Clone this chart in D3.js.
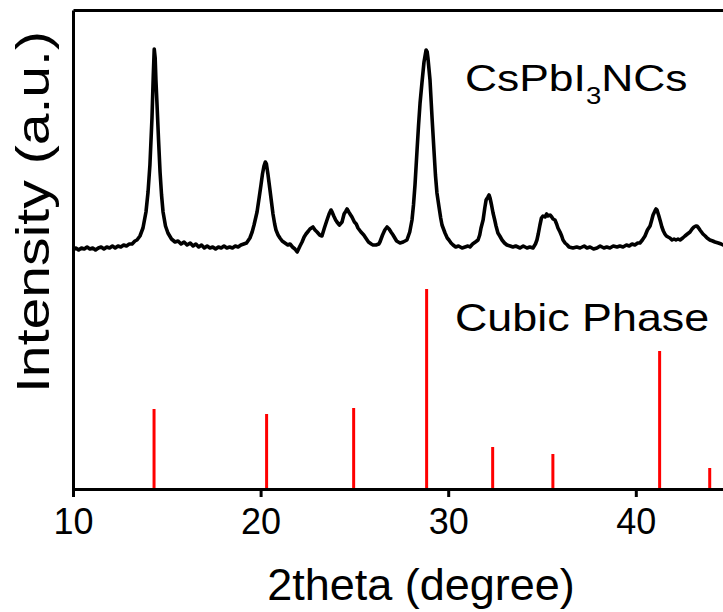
<!DOCTYPE html>
<html>
<head>
<meta charset="utf-8">
<script src="https://cdn.jsdelivr.net/npm/d3@7/dist/d3.min.js"></script>
<style>
  html, body { margin: 0; padding: 0; background: #fff; }
  svg { display: block; }
  text { font-family: "Liberation Sans", Arial, Helvetica, sans-serif; fill: #000; }
</style>
</head>
<body>
<svg id="chart" width="723" height="612"></svg>
<script>
// ---- data ----
const xTicks = [10, 20, 30, 40];

// Measured XRD pattern (2theta, intensity a.u.)
const xrdTheta = [10.00,10.15,10.30,10.45,10.60,10.75,10.90,11.05,11.20,11.35,11.50,11.65,11.80,11.95,12.10,12.25,12.40,12.55,12.70,12.85,13.00,13.15,13.30,13.41,13.57,13.73,13.89,14.00,14.10,14.21,14.28,14.33,14.38,14.42,14.48,14.56,14.64,14.72,14.80,14.93,15.06,15.25,15.44,15.60,15.76,15.92,16.08,16.25,16.40,16.55,16.70,16.85,17.00,17.15,17.30,17.45,17.60,17.75,17.90,18.05,18.20,18.35,18.50,18.65,18.80,18.95,19.10,19.25,19.43,19.55,19.65,19.81,19.92,20.02,20.10,20.18,20.25,20.31,20.39,20.50,20.58,20.66,20.75,20.82,20.93,21.03,21.15,21.30,21.45,21.57,21.70,21.83,21.95,22.00,22.10,22.21,22.32,22.42,22.55,22.63,22.79,22.90,23.01,23.15,23.27,23.40,23.54,23.65,23.75,23.81,23.90,24.00,24.07,24.20,24.34,24.45,24.55,24.61,24.70,24.80,24.87,25.00,25.10,25.19,25.35,25.50,25.57,25.75,25.90,25.99,26.15,26.30,26.36,26.50,26.62,26.74,26.85,26.95,27.06,27.25,27.43,27.60,27.80,27.95,28.07,28.15,28.23,28.34,28.42,28.50,28.60,28.71,28.82,28.88,28.92,29.03,29.14,29.24,29.32,29.40,29.51,29.60,29.67,29.83,29.95,30.04,30.15,30.26,30.40,30.55,30.74,30.90,31.05,31.16,31.30,31.45,31.59,31.68,31.75,31.86,31.95,32.02,32.12,32.18,32.23,32.31,32.39,32.48,32.55,32.65,32.75,32.87,33.00,33.13,33.30,33.45,33.60,33.83,34.00,34.20,34.35,34.52,34.65,34.73,34.80,34.89,34.97,35.05,35.16,35.25,35.32,35.43,35.52,35.59,35.69,35.78,35.85,35.96,36.05,36.12,36.23,36.35,36.44,36.65,36.85,37.03,37.25,37.40,37.56,37.75,37.93,38.10,38.30,38.45,38.62,38.80,39.00,39.15,39.32,39.50,39.65,39.80,39.95,40.10,40.22,40.35,40.49,40.62,40.76,40.85,40.92,41.02,41.08,41.13,41.23,41.32,41.39,41.47,41.55,41.63,41.72,41.82,41.93,42.04,42.14,42.25,42.36,42.50,42.62,42.75,42.89,43.00,43.10,43.20,43.26,43.35,43.42,43.50,43.58,43.70,43.80,43.95,44.10,44.22,44.40,44.55,44.65,44.80];
const xrdIntensity = [239,241,239,241,240,242,240,241,239,241,242,240,242,241,243,241,243,242,244,243,245,245,248,249,253,261,277,297,324,371,414,440,431,409,384,349,317,294,277,263,256,250,247,248,245,247,244,246,243,245,242,244,241,243,241,242,240,242,241,243,241,242,241,243,242,244,245,246,251,257,264,277,291,304,315,323,327,325,315,299,287,275,265,259,254,251,248,246,244,245,242,240,237,239,243,247,252,255,258,260,262,259,257,254,253,261,269,275,279,277,273,269,267,264,267,275,278,280,277,274,272,267,265,261,257,254,252,247,245,244,244,245,247,254,259,262,260,257,254,248,246,247,249,257,269,284,304,339,364,386,406,427,439,437,431,409,371,339,314,296,282,271,264,256,251,249,246,244,242,243,241,242,243,242,245,247,249,254,261,269,281,289,292,294,291,284,276,269,263,256,253,249,246,244,243,242,243,241,243,241,242,241,245,249,255,264,271,273,272,275,273,274,272,270,269,265,261,257,253,249,246,244,242,241,242,241,243,241,242,240,241,243,241,242,241,243,242,243,242,244,243,245,244,246,246,249,253,259,263,269,274,278,280,279,273,267,262,258,255,253,252,251,249,250,249,250,249,251,253,255,257,260,262,263,263,261,259,257,255,253,251,249,248,247,246,245,244,244];

// Cubic phase reference lines (2theta, relative intensity %)
const refTheta = [14.32, 20.32, 24.96, 28.85, 32.37, 35.58, 41.27, 43.94];
const refIntensity = [40, 37.5, 40.5, 100, 21, 17.5, 69, 10.5];

(function () {
// ---- layout ----
const svg = d3.select("#chart");
const mLeft = 73, mTop = 10, mBottom = 489;
const pxPerDeg = 18.76;

const x = d3.scaleLinear().domain([10, 50]).range([mLeft, mLeft + 40 * pxPerDeg]);
const yCurve = d3.scaleLinear().domain([0, 480]).range([mBottom, mBottom - 480]);
const yRef = d3.scaleLinear().domain([0, 100]).range([mBottom, mBottom - 200]);

// reference bars
svg.append("g").selectAll("line")
  .data(refTheta.map((t, i) => ({ t, v: refIntensity[i] })))
  .join("line")
  .attr("x1", d => x(d.t)).attr("x2", d => x(d.t))
  .attr("y1", yRef(0)).attr("y2", d => yRef(d.v))
  .attr("stroke", "#ff0000").attr("stroke-width", 3);

// XRD curve
const pts = xrdTheta.map((t, i) => [t, xrdIntensity[i]]);
svg.append("path")
  .datum(pts)
  .attr("fill", "none")
  .attr("stroke", "#000")
  .attr("stroke-width", 3.6)
  .attr("stroke-linejoin", "round")
  .attr("d", d3.line().x(d => x(d[0])).y(d => yCurve(d[1])));

// frame: left and top
const yFrame = d3.scaleLinear().domain([0, 1]).range([mBottom, mTop]);
const axL = svg.append("g").attr("transform", `translate(${mLeft},0)`)
  .call(d3.axisLeft(yFrame).tickValues([]).tickSizeOuter(0));
const axT = svg.append("g").attr("transform", `translate(0,${mTop})`)
  .call(d3.axisTop(x).tickValues([]).tickSizeOuter(0));

// bottom axis
const axB = svg.append("g").attr("transform", `translate(0,${mBottom})`)
  .call(d3.axisBottom(x).tickValues(xTicks).tickSize(8).tickSizeOuter(0).tickFormat(d3.format("d")));
axB.selectAll(".tick text").attr("y", 45).attr("dy", 0)
  .style("font-size", "36px").style("font-family", "'Liberation Sans', Arial, sans-serif");
axB.selectAll(".tick line").attr("stroke-width", 3);

[axL, axT, axB].forEach(a => a.select(".domain").attr("stroke-width", 3).attr("stroke", "#000"));

// axis titles
svg.append("text")
  .attr("x", 421).attr("y", 600)
  .attr("text-anchor", "middle")
  .style("font-size", "45px")
  .text("2theta (degree)");

svg.append("text")
  .attr("transform", "translate(49,212) rotate(-90)")
  .attr("text-anchor", "middle")
  .attr("textLength", 362).attr("lengthAdjust", "spacingAndGlyphs")
  .style("font-size", "46px")
  .text("Intensity (a.u.)");

// annotations
const ann1 = svg.append("text")
  .attr("transform", "translate(465,91) scale(1.2,1)")
  .style("font-size", "37px");
ann1.append("tspan").text("CsPbI");
ann1.append("tspan").attr("dy", 13).style("font-size", "23px").text("3");
ann1.append("tspan").attr("dy", -13).text("NCs");

svg.append("text")
  .attr("transform", "translate(455,331) scale(1.18,1)")
  .style("font-size", "38px")
  .text("Cubic Phase");
})();
</script>
</body>
</html>
